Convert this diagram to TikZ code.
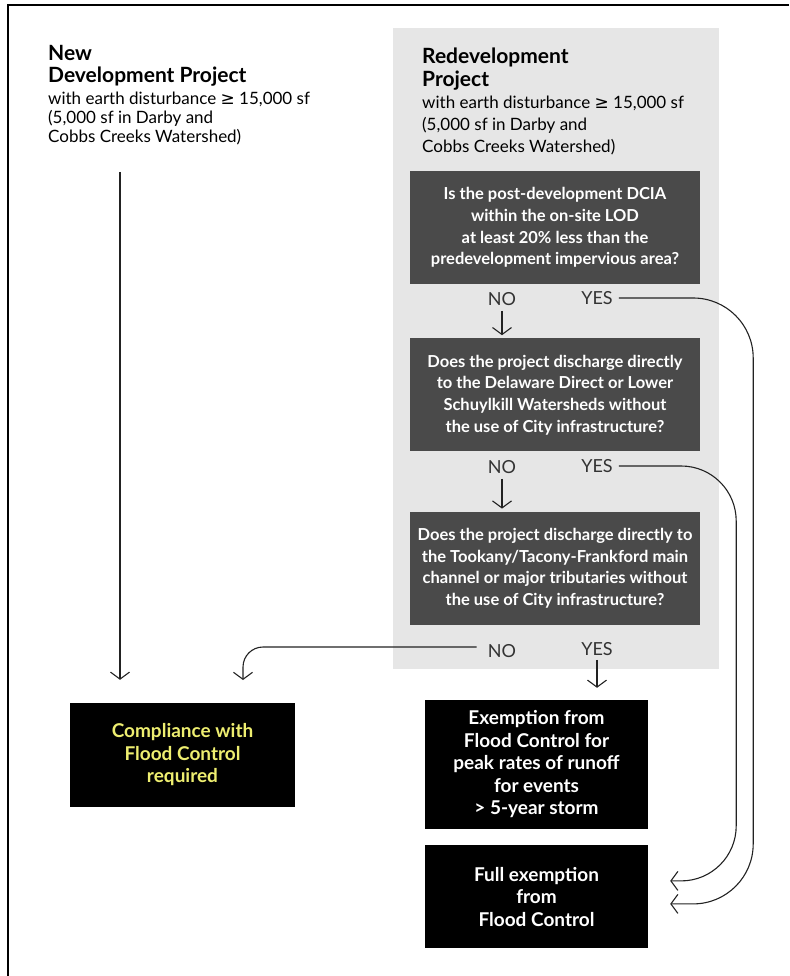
\documentclass[tikz,border=0pt]{standalone}
\usepackage{fontspec}
\setmainfont{Lato}
\newfontfamily\symfont{DejaVu Sans}
\usetikzlibrary{arrows.meta,positioning,calc}
\definecolor{panelgray}{HTML}{E6E6E6}
\definecolor{qgray}{HTML}{4A4A4A}
\definecolor{hiyellow}{HTML}{EEEE70}
\definecolor{linegray}{HTML}{222222}
\tikzset{
	qbox/.style={fill=qgray, text=white, align=center, inner sep=0pt,
		minimum width=290pt, minimum height=113pt,
		font=\fontsize{16.5}{21.7}\selectfont\bfseries},
	endbox/.style={fill=black, text=white, align=center, inner sep=0pt,
		minimum width=223pt, font=\fontsize{19}{22.5}\selectfont\bfseries},
	answer/.style={text=black!80, inner sep=1pt, font=\fontsize{18}{20}\selectfont},
	headtitle/.style={anchor=north west, align=left, inner sep=0pt,
		font=\fontsize{21}{22.5}\selectfont\bfseries},
	headbody/.style={anchor=north west, align=left, inner sep=0pt,
		font=\fontsize{17}{19}\selectfont},
	arrow/.style={-{Straight Barb[length=7pt,width=19pt]}, line width=1.1pt, draw=linegray},
}

\begin{document}
\begin{tikzpicture}[x=1pt, y=-1pt]
	\useasboundingbox (0,0) rectangle (789,976);
	
	%% -- Frame and shaded panel
	\draw[line width=2pt] (789,5) -- (8,5) -- (8,976);
	\fill[panelgray] (393,28) rectangle (719,669);
	
	%% -- Headings
	\node[headtitle] (newtitle) at (48,45) {New\\Development Project};
	\node[headbody, below=5pt of newtitle.south west, anchor=north west] (newbody)
	{with earth disturbance {\symfont ≥} 15,000 sf\\(5,000 sf in Darby and\\Cobbs Creeks Watershed)};
	
	\node[headtitle] (redtitle) at (422,48) {Redevelopment\\Project};
	\node[headbody, font=\fontsize{17}{22}\selectfont,
	below=5pt of redtitle.south west, anchor=north west] (redbody)
	{with earth disturbance {\symfont ≥} 15,000 sf\\(5,000 sf in Darby and\\Cobbs Creeks Watershed)};
	
	%% -- Questions
	\node[qbox] (q1) at (555,227.5)
	{Is the post-development DCIA\\within the on-site LOD\\at least 20\% less than the\\predevelopment impervious area?};
	\node[qbox, below=54pt of q1] (q2)
	{Does the project discharge directly\\to the Delaware Direct or Lower\\Schuylkill Watersheds without\\the use of City infrastructure?};
	\node[qbox, below=60pt of q2] (q3)
	{Does the project discharge directly to\\the Tookany/Tacony-Frankford main\\channel or major tributaries without\\the use of City infrastructure?};
	
	%% -- Answers
	\node[answer] (no1) at (502,299) {NO};
	\node[answer] (yes1) at (597,298) {YES};
	\node[answer] (no2) at (502,467) {NO};
	\node[answer] (yes2) at (597,466) {YES};
	\node[answer] (no3) at (502,651) {NO};
	\node[answer] (yes3) at (597,649) {YES};
	
	%% -- Outcomes
	\node[endbox, text=hiyellow, minimum width=225pt, minimum height=104pt] (comp) at (182.5,755)
	{Compliance with\\Flood Control\\required};
	\node[endbox, minimum height=129pt] (exempt) at (536.5,764.5)
	{Exemption from\\Flood Control for\\peak rates of runoff\\for events\\> 5-year storm};
	\node[endbox, minimum height=103pt, below=16pt of exempt] (full)
	{Full exemption\\from\\Flood Control};
	
	%% -- NO arrows
	\draw[arrow, shorten <=4pt, shorten >=3pt] (no1) -- (no1 |- q2.north);
	\draw[arrow, shorten <=4pt, shorten >=3pt] (no2) -- (no2 |- q3.north);
	
	\coordinate (newfoot) at (120,172);
	\draw[arrow, shorten >=23pt] (newfoot) -- (newfoot |- comp.north);
	
	\coordinate (compin) at (243,703);
	\draw[arrow, rounded corners=20pt, shorten >=23pt]
	([xshift=-10pt, yshift=4pt]no3.west) -| (compin);
	
	%% -- YES arrows
	\draw[arrow, shorten <=3pt, shorten >=12pt] (yes3) -- (yes3 |- exempt.north);
	
	\coordinate (tipA) at ([xshift=22pt, yshift=16pt]full.east);
	\coordinate (tipB) at ([xshift=22pt, yshift=-7pt]full.east);
	\draw[arrow, rounded corners=55pt] ([xshift=5pt]yes2.east) -| ([xshift=66pt]tipA) -- (tipA);
	\draw[arrow, rounded corners=60pt] ([xshift=5pt]yes1.east) -| ([xshift=83pt]tipB) -- (tipB);
	
\end{tikzpicture}
\end{document}
